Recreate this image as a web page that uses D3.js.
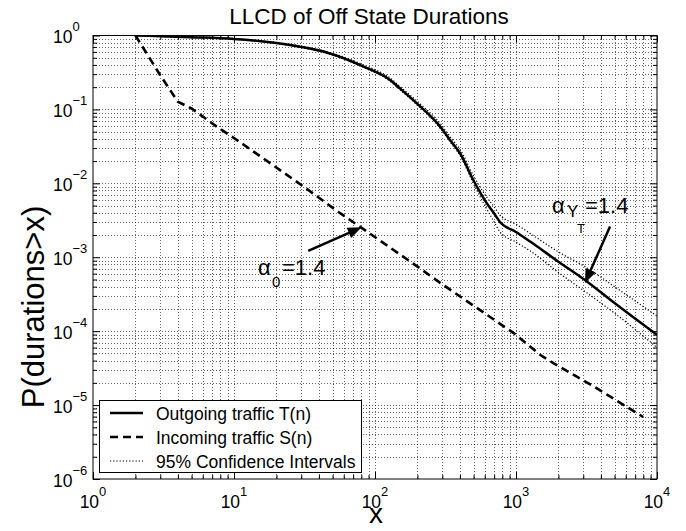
<!DOCTYPE html>
<html>
<head>
<meta charset="utf-8">
<script src="https://cdn.jsdelivr.net/npm/d3@7"></script>
<style>
  body { margin: 0; background: #fff; }
  svg { display: block; }
  text { font-family: "Liberation Sans", Arial, Helvetica, sans-serif; fill: #000; }
</style>
</head>
<body>
<svg id="chart" width="686" height="531"></svg>
<script>
// Outgoing traffic T(n): empirical LLCD with its 95% confidence band
const outX     = [2, 3, 5, 10, 20, 30, 46, 83, 128, 150, 198, 289, 350, 400, 498, 620, 700, 770, 1000, 1260, 2000, 3180, 5000, 10000];
const outY     = [1.0, 0.98, 0.95, 0.90, 0.79, 0.70, 0.585, 0.38, 0.25, 0.193, 0.121, 0.059, 0.036, 0.0257, 0.0111, 0.0054, 0.0039, 0.0030, 0.0022, 0.00163, 0.00087, 0.00047, 0.00024, 0.000089];
const outUpper = [1.0, 0.99, 0.96, 0.91, 0.80, 0.715, 0.60, 0.40, 0.265, 0.205, 0.13, 0.065, 0.040, 0.029, 0.0128, 0.0065, 0.0048, 0.0037, 0.0028, 0.0021, 0.00118, 0.00072, 0.00040, 0.00016];
const outLower = [1.0, 0.97, 0.94, 0.89, 0.78, 0.685, 0.57, 0.37, 0.24, 0.185, 0.116, 0.056, 0.034, 0.024, 0.0100, 0.0045, 0.0030, 0.0022, 0.0016, 0.00122, 0.00062, 0.00033, 0.000175, 0.00006];

// Incoming traffic S(n)
const inX = [2, 3, 4, 5, 7.5, 10, 16, 31, 55, 78, 208, 290, 957, 1480, 1840, 3540, 7980];
const inY = [1.0, 0.29, 0.127, 0.103, 0.059, 0.041, 0.022, 0.0091, 0.0041, 0.0026, 0.00071, 0.00045, 0.000095, 0.000048, 0.000037, 0.000018, 0.0000069];

// Axis decades (exponents of 10)
const xExponents = [0, 1, 2, 3, 4];
const yExponents = [-6, -5, -4, -3, -2, -1, 0];

const titleText = "LLCD of Off State Durations";
const xLabelText = "x";
const yLabelText = "P(durations>x)";
const legendLabels = ["Outgoing traffic T(n)", "Incoming traffic S(n)", "95% Confidence Intervals"];

// Tail-index annotations: arrow tail, arrow tip and label anchor in data units
const annotations = [
  { tail: [33.6, 1.22e-3], tip: [80.5, 2.55e-3], label: [14.8, 5.8e-4], sub: "0", subsub: null },
  { tail: [4645, 2.61e-3], tip: [3085, 4.48e-4], label: [1800, 3.99e-3], sub: "Y", subsub: "T" }
];

const svg = d3.select("#chart");
const L = 93, R = 657, T = 35.5, B = 479;

const x = d3.scaleLog().domain([1, 1e4]).range([L, R]);
const y = d3.scaleLog().domain([1e-6, 1]).range([B, T]);

// Major and minor tick values
const minorOf = (exps) => {
  const v = [];
  for (let i = 0; i < exps.length - 1; i++)
    for (let k = 2; k <= 9; k++) v.push(k * Math.pow(10, exps[i]));
  return v;
};
const xMajor = xExponents.map(e => Math.pow(10, e));
const yMajor = yExponents.map(e => Math.pow(10, e));
const xMinor = minorOf(xExponents);
const yMinor = minorOf(yExponents);

svg.append("rect").attr("x", 0).attr("y", 0).attr("width", 686).attr("height", 531).attr("fill", "#fff");

// Dotted grid at every major and minor position
const grid = svg.append("g").attr("stroke", "#000").attr("stroke-width", 1)
  .attr("stroke-dasharray", "1,2").attr("stroke-opacity", 0.6).attr("shape-rendering", "crispEdges");
xMajor.concat(xMinor).filter(v => v > 1 && v < 1e4).forEach(v => {
  const px = Math.round(x(v)) + 0.5;
  grid.append("line").attr("x1", px).attr("x2", px).attr("y1", T).attr("y2", B);
});
yMajor.concat(yMinor).filter(v => v > 1e-6 && v < 1).forEach(v => {
  const py = Math.round(y(v)) + 0.5;
  grid.append("line").attr("x1", L).attr("x2", R).attr("y1", py).attr("y2", py);
});

// Ticks on all four sides, pointing inward
const tickG = svg.append("g");
function drawAxis(axisFn, scale, values, size, transform) {
  tickG.append("g").attr("transform", transform)
    .call(axisFn(scale).tickValues(values).tickSize(size).tickFormat(""))
    .call(g => g.select(".domain").remove())
    .call(g => g.selectAll("line").attr("stroke", "#000").attr("stroke-width", 1));
}
drawAxis(d3.axisBottom, x, xMajor, -7, `translate(0,${B})`);
drawAxis(d3.axisBottom, x, xMinor, -4, `translate(0,${B})`);
drawAxis(d3.axisTop, x, xMajor, -7, `translate(0,${T})`);
drawAxis(d3.axisTop, x, xMinor, -4, `translate(0,${T})`);
drawAxis(d3.axisLeft, y, yMajor, -7, `translate(${L},0)`);
drawAxis(d3.axisLeft, y, yMinor, -4, `translate(${L},0)`);
drawAxis(d3.axisRight, y, yMajor, -7, `translate(${R},0)`);
drawAxis(d3.axisRight, y, yMinor, -4, `translate(${R},0)`);

// Tick labels as 10 with superscript exponents
const fmtExp = e => (e < 0 ? "\u2212" + Math.abs(e) : String(e));
xExponents.forEach(e => {
  const t = svg.append("text").attr("x", x(Math.pow(10, e))).attr("y", B + 29)
    .attr("text-anchor", "middle").attr("font-size", 17.5);
  t.append("tspan").text("10");
  t.append("tspan").attr("dy", -12).attr("font-size", 13).text(fmtExp(e));
});
yExponents.forEach(e => {
  const t = svg.append("text").attr("x", L - 40).attr("y", y(Math.pow(10, e)) + 7.5)
    .attr("text-anchor", "start").attr("font-size", 17.5);
  t.append("tspan").text("10");
  t.append("tspan").attr("dy", -12).attr("font-size", 13).text(fmtExp(e));
});

// Curves
svg.append("clipPath").attr("id", "plotClip").append("rect")
  .attr("x", L).attr("y", T).attr("width", R - L).attr("height", B - T);
const curves = svg.append("g").attr("clip-path", "url(#plotClip)");
const pairs = (xs, ys) => xs.map((v, i) => [v, ys[i]]);
const smooth = d3.line().x(d => x(d[0])).y(d => y(d[1])).curve(d3.curveMonotoneX);
const straight = d3.line().x(d => x(d[0])).y(d => y(d[1]));

[outUpper, outLower].forEach(ci => {
  curves.append("path").datum(pairs(outX, ci)).attr("d", smooth)
    .attr("fill", "none").attr("stroke", "#000").attr("stroke-width", 1.2).attr("stroke-dasharray", "1.2,2");
});
curves.append("path").datum(pairs(outX, outY)).attr("d", smooth)
  .attr("fill", "none").attr("stroke", "#000").attr("stroke-width", 2.5);
curves.append("path").datum(pairs(inX, inY)).attr("d", straight)
  .attr("fill", "none").attr("stroke", "#000").attr("stroke-width", 2.6).attr("stroke-dasharray", "8,5");

// Annotations with filled arrowheads
annotations.forEach(a => {
  const x0 = x(a.tail[0]), y0 = y(a.tail[1]), x1 = x(a.tip[0]), y1 = y(a.tip[1]);
  const dx = x1 - x0, dy = y1 - y0, len = Math.hypot(dx, dy);
  const ux = dx / len, uy = dy / len, head = 14, half = 5.5;
  const bx = x1 - ux * head, by = y1 - uy * head;
  svg.append("line").attr("x1", x0).attr("y1", y0).attr("x2", bx + ux * 2).attr("y2", by + uy * 2)
    .attr("stroke", "#000").attr("stroke-width", 2.5);
  svg.append("polygon")
    .attr("points", [[x1, y1], [bx - uy * half, by + ux * half], [bx + uy * half, by - ux * half]].map(p => p.join(",")).join(" "))
    .attr("fill", "#000");
  const lx = x(a.label[0]), ly = y(a.label[1]);
  const g = svg.append("g").attr("transform", `translate(${lx},${ly})`);
  g.append("text").attr("font-size", 22).text("\u03B1");
  if (a.subsub) {
    g.append("text").attr("x", 15).attr("y", 4).attr("font-size", 17).text(a.sub);
    g.append("text").attr("x", 25).attr("y", 20).attr("font-size", 13).text(a.subsub);
    g.append("text").attr("x", 33).attr("y", 0).attr("font-size", 22).text("=1.4");
  } else {
    g.append("text").attr("x", 14).attr("y", 12).attr("font-size", 15).text(a.sub);
    g.append("text").attr("x", 24).attr("y", 0).attr("font-size", 22).text("=1.4");
  }
});

// Axes frame
svg.append("rect").attr("x", L).attr("y", T).attr("width", R - L).attr("height", B - T)
  .attr("fill", "none").attr("stroke", "#000").attr("stroke-width", 1);

// Legend
const lg = svg.append("g");
lg.append("rect").attr("x", 99.5).attr("y", 400.5).attr("width", 262).attr("height", 72)
  .attr("fill", "#fff").attr("stroke", "#000").attr("stroke-width", 1);
const legendStyles = [
  { w: 2.5, dash: null }, { w: 2.6, dash: "8,5" }, { w: 1.2, dash: "1.2,2" }
];
legendLabels.forEach((lab, i) => {
  const cy = 413 + i * 24;
  const ln = lg.append("line").attr("x1", 110).attr("x2", 143).attr("y1", cy).attr("y2", cy)
    .attr("stroke", "#000").attr("stroke-width", legendStyles[i].w);
  if (legendStyles[i].dash) ln.attr("stroke-dasharray", legendStyles[i].dash);
  lg.append("text").attr("x", 156).attr("y", cy + 6.5).attr("font-size", 17.5).text(lab);
});

// Title and axis labels
svg.append("text").attr("x", 369).attr("y", 24).attr("text-anchor", "middle")
  .attr("font-size", 22.5).text(titleText);
svg.append("text").attr("x", 376).attr("y", 523).attr("text-anchor", "middle")
  .attr("font-size", 28).text(xLabelText);
svg.append("text").attr("transform", `translate(44,307) rotate(-90)`)
  .attr("text-anchor", "middle").attr("font-size", 31).text(yLabelText);
</script>
</body>
</html>
